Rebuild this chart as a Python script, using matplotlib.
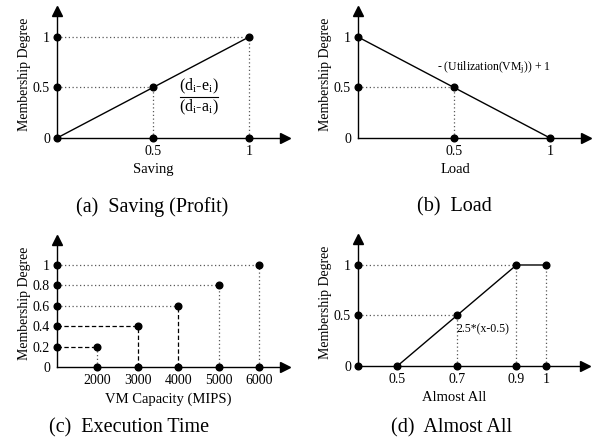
import matplotlib
matplotlib.use("Agg")
import matplotlib.pyplot as plt

plt.rcParams['font.family'] = ['Liberation Serif', 'DejaVu Serif']
plt.rcParams['mathtext.fontset'] = 'custom'
plt.rcParams['mathtext.rm'] = 'Liberation Serif'
plt.rcParams['mathtext.it'] = 'Liberation Serif:italic'

# (a) Saving (Profit)
saving_x = [0, 1]
saving_y = [0, 1]
saving_ticks = [0.5, 1]
# (b) Load
load_x = [0, 1]
load_y = [1, 0]
load_ticks = [0.5, 1]
# (c) Execution Time
capacity = [2000, 3000, 4000, 5000, 6000]
capacity_deg = [0.2, 0.4, 0.6, 0.8, 1.0]
capacity_ylabels = ['0', '0.2', '0.4', '0.6', '0.8', '1']
# (d) Almost All
almost_x = [0.5, 0.7, 0.9, 1.0]
almost_y = [0, 0.5, 1, 1]

W, H = 596, 443
fig = plt.figure(figsize=(W / 100, H / 100), dpi=100)

DOT = dict(marker='o', ms=4.8, color='k', ls='none', clip_on=False, zorder=5)
GUIDE = dict(color='0.35', lw=0.9, ls=(0, (1, 2)), zorder=2)
DASH = dict(color='k', lw=0.9, ls=(0, (3.5, 2)), zorder=2)


def make_axes(left_px, origin_px, xlim, ylim_top):
    w = (left_px[1] - left_px[0]) / W
    h = 130 / H
    ax = fig.add_axes([left_px[0] / W, 1 - origin_px / H, w, h])
    ax.set_xlim(*xlim)
    ax.set_ylim(0, ylim_top)
    for s in ['top', 'right']:
        ax.spines[s].set_visible(False)
    for s in ['left', 'bottom']:
        ax.spines[s].set_linewidth(1.0)
    ax.tick_params(length=0, pad=5, labelsize=10)
    # arrow heads
    ax.plot(0.985, 0, marker='>', ms=6.5, color='k', transform=ax.transAxes, clip_on=False)
    ax.plot(0, 0.975, marker='^', ms=6.5, color='k', transform=ax.transAxes, clip_on=False)
    ax.set_ylabel('Membership Degree', fontsize=10)
    ax.yaxis.label.set_va('center')
    ax.yaxis.set_label_coords(-0.14, 0.49)
    return ax


def set_xlab(ax, text, xpos):
    ax.set_xlabel(text, fontsize=10.5)
    ax.xaxis.label.set_va('center')
    ax.xaxis.set_label_coords(xpos, -0.246)


def caption(text, x, y):
    fig.text(x / W, 1 - y / H, text, ha='center', va='center', fontsize=14.5)


# ---- (a)
ax = make_axes((57, 288), 138, (0, 1.203), 1.287)
ax.plot(saving_x, saving_y, color='k', lw=1)
ax.plot([0, 1], [1, 1], **GUIDE)
ax.plot([0, 0.5], [0.5, 0.5], **GUIDE)
ax.plot([0.5, 0.5], [0, 0.5], **GUIDE)
ax.plot([1, 1], [0, 1], **GUIDE)
ax.plot([0, 0, 0, 0.5, 0.5, 1, 1], [0, 0.5, 1, 0, 0.5, 0, 1], **DOT)
ax.set_xticks(saving_ticks, ['0.5', '1'])
ax.set_yticks([0, 0.5, 1], ['0', '0.5', '1'])
ax.text(0.74, 0.51, '(d$_\\mathrm{i}$-e$_\\mathrm{i}$)', ha='center', va='center', fontsize=11.5)
ax.plot([0.64, 0.84], [0.41, 0.41], color='k', lw=0.8)
ax.text(0.74, 0.305, '(d$_\\mathrm{i}$-a$_\\mathrm{i}$)', ha='center', va='center', fontsize=11.5)
set_xlab(ax, 'Saving', 0.416)
caption('(a)  Saving (Profit)', 152, 207)

# ---- (b)
ax = make_axes((358, 589), 138, (0, 1.203), 1.287)
ax.plot(load_x, load_y, color='k', lw=1)
ax.plot([0, 0.5], [0.5, 0.5], **GUIDE)
ax.plot([0.5, 0.5], [0, 0.5], **GUIDE)
ax.plot([0, 0, 0.5, 0.5, 1], [1, 0.5, 0.5, 0, 0], **DOT)
ax.set_xticks(load_ticks, ['0.5', '1'])
ax.set_yticks([0, 0.5, 1], ['0', '0.5', '1'])
ax.text(0.41, 0.70, '- (Utilization(VM$_\\mathrm{j}$)) + 1', ha='left', va='center', fontsize=8.5)
set_xlab(ax, 'Load', 0.42)
caption('(b)  Load', 454, 207)

# ---- (c)
ax = make_axes((57, 288), 367, (1000, 6704), 1.275)
for i, (cx, cy) in enumerate(zip(capacity, capacity_deg)):
    hstyle = DASH if i < 2 else GUIDE
    vstyle = DASH if i in (1, 2) else GUIDE
    ax.plot([1000, cx], [cy, cy], **hstyle)
    ax.plot([cx, cx], [0, cy], **vstyle)
ax.plot(capacity, capacity_deg, **DOT)
ax.plot(capacity, [0] * len(capacity), **DOT)
ax.plot([1000] * len(capacity), capacity_deg, **DOT)
ax.set_xticks(capacity, [str(c) for c in capacity])
ax.set_yticks([0] + capacity_deg, capacity_ylabels)
set_xlab(ax, 'VM Capacity (MIPS)', 0.48)
caption('(c)  Execution Time', 129, 428)

# ---- (d)
x0 = 0.368
ax = make_axes((358, 588), 366, (x0, 1.140), 1.287)
ax.plot(almost_x, almost_y, color='k', lw=1)
ax.plot([x0, 0.9], [1, 1], **GUIDE)
ax.plot([x0, 0.7], [0.5, 0.5], **GUIDE)
for vx, vy in [(0.7, 0.5), (0.9, 1), (1.0, 1)]:
    ax.plot([vx, vx], [0, vy], **GUIDE)
ax.plot([x0, x0, x0], [0, 0.5, 1], **DOT)
ax.plot(almost_x, [0] * len(almost_x), **DOT)
ax.plot(almost_x[1:], almost_y[1:], **DOT)
ax.set_xticks(almost_x, ['0.5', '0.7', '0.9', '1'])
ax.set_yticks([0, 0.5, 1], ['0', '0.5', '1'])
ax.text(0.7, 0.36, '2.5*(x-0.5)', ha='left', va='center', fontsize=8.5)
set_xlab(ax, 'Almost All', 0.42)
caption('(d)  Almost All', 452, 428)

fig.savefig('out.png', dpi=100)
